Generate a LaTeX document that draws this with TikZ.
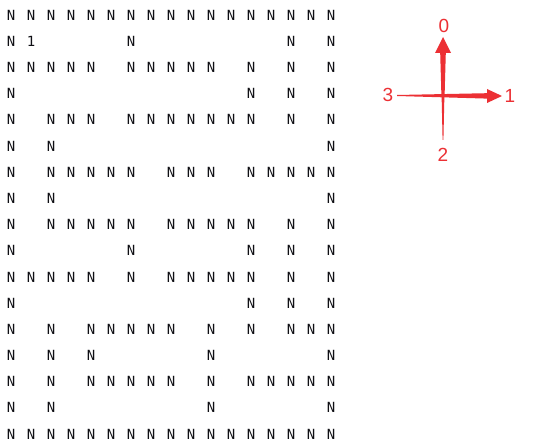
\documentclass[tikz,border=0pt]{standalone}
\usepackage{fontspec}
\setmainfont{Liberation Sans}
\newfontfamily\gridfont{DejaVu Sans Mono}
\definecolor{arrowred}{RGB}{236,48,52}
\definecolor{gridtext}{RGB}{15,15,20}
\begin{document}
\begin{tikzpicture}[x=1pt,y=-1pt,
  gridn/.style={font=\gridfont\fontsize{14}{14}\selectfont, inner sep=0pt, text=gridtext},
  dirlbl/.style={font=\fontsize{19}{19}\selectfont, text=arrowred, inner sep=0pt},
  redshape/.style={fill=arrowred, draw=none}]
\useasboundingbox (0,0) rectangle (555,446);
\fill[white] (0,0) rectangle (555,446);
% maze grid
\foreach \r/\cols in {
  0/{0,1,2,3,4,5,6,7,8,9,10,11,12,13,14,15,16},
  1/{0,6,14,16},
  2/{0,1,2,3,4,6,7,8,9,10,12,14,16},
  3/{0,12,14,16},
  4/{0,2,3,4,6,7,8,9,10,11,12,14,16},
  5/{0,2,16},
  6/{0,2,3,4,5,6,8,9,10,12,13,14,15,16},
  7/{0,2,16},
  8/{0,2,3,4,5,6,8,9,10,11,12,14,16},
  9/{0,6,12,14,16},
  10/{0,1,2,3,4,6,8,9,10,11,12,14,16},
  11/{0,12,14,16},
  12/{0,2,4,5,6,7,8,10,12,14,15,16},
  13/{0,2,4,10,16},
  14/{0,2,4,5,6,7,8,10,12,13,14,15,16},
  15/{0,2,10,16},
  16/{0,1,2,3,4,5,6,7,8,9,10,11,12,13,14,15,16}}{
  \foreach \c in \cols {
    \node[gridn] (n-\r-\c) at ({11+20*\c},{15+26.19*\r}) {N};
  }
}
\node[gridn] (start) at (31,41.2) {1};
% compass
\coordinate (c) at (443,95.5);
\fill[redshape] (441.4,95.5) -- (440.2,53) -- (435,53) -- (443,37) -- (451,53) -- (445.8,53) -- (444.6,95.5) -- cycle;
\fill[redshape] (441.6,95.5) -- (442.6,140) -- (443.4,140) -- (444.4,95.5) -- cycle;
\fill[redshape] (397,95) -- (487,93.2) -- (487,89) -- (502,96) -- (487,103) -- (487,98.6) -- (397,96) -- cycle;
\node[dirlbl] (d0) at (444,25.5) {0};
\node[dirlbl] (d1) at (510,96) {1};
\node[dirlbl] (d2) at (443,155) {2};
\node[dirlbl] (d3) at (388,95) {3};
\end{tikzpicture}
\end{document}
